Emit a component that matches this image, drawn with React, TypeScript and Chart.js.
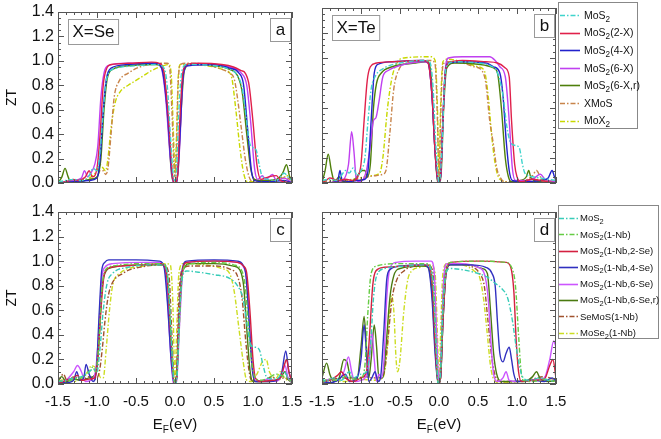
import React, { useEffect, useRef } from 'react';
import { Chart, registerables } from 'chart.js';

Chart.register(...registerables);

const W = 661;
const H = 439;
const FONT = "'Liberation Sans', Arial, Helvetica, sans-serif";

const X_TICKS = [-1.5, -1.0, -0.5, 0, 0.5, 1.0, 1.5];
const Y_TICKS = [0, 0.2, 0.4, 0.6, 0.8, 1.0, 1.2, 1.4];

type Pt = [number, number];

// ---------- Panel a : X = Se ----------
const aMoS2: Pt[] = [[-1.5,0.01],[-1.4,0.02],[-1.3,0.03],[-1.2,0.02],[-1.1,0.06],[-1.05,0.12],[-1.0,0.1],[-0.97,0.2],[-0.93,0.5],[-0.89,0.8],[-0.85,0.9],[-0.75,0.94],[-0.5,0.96],[-0.25,0.97],[-0.15,0.95],[-0.1,0.8],[-0.06,0.4],[-0.02,0.05],[0,0.02],[0.02,0.1],[0.05,0.6],[0.09,0.92],[0.15,0.97],[0.5,0.96],[0.7,0.93],[0.8,0.88],[0.86,0.78],[0.91,0.55],[0.96,0.32],[1.0,0.29],[1.04,0.27],[1.08,0.15],[1.12,0.05],[1.2,0.03],[1.3,0.02],[1.4,0.08],[1.45,0.05],[1.5,0.02]];
const aMoS2_2X: Pt[] = [[-1.5,0],[-1.4,0.01],[-1.3,0.03],[-1.25,0.02],[-1.15,0.05],[-1.1,0.1],[-1.06,0.05],[-1.0,0.12],[-0.96,0.4],[-0.92,0.8],[-0.88,0.93],[-0.82,0.97],[-0.6,0.98],[-0.3,0.99],[-0.2,0.98],[-0.14,0.9],[-0.08,0.5],[-0.03,0.05],[0,0],[0.03,0.05],[0.06,0.5],[0.1,0.9],[0.15,0.97],[0.3,0.98],[0.6,0.97],[0.75,0.95],[0.85,0.92],[0.9,0.9],[0.95,0.8],[1.0,0.5],[1.05,0.15],[1.1,0.03],[1.2,0.05],[1.3,0.06],[1.35,0.02],[1.4,0.01],[1.5,0]];
const aMoS2_4X: Pt[] = [[-1.5,0],[-1.3,0.01],[-1.1,0.02],[-1.0,0.04],[-0.96,0.2],[-0.92,0.6],[-0.88,0.85],[-0.82,0.94],[-0.6,0.97],[-0.25,0.98],[-0.17,0.94],[-0.1,0.6],[-0.05,0.15],[-0.01,0],[0.02,0],[0.06,0.35],[0.1,0.85],[0.15,0.96],[0.5,0.97],[0.7,0.94],[0.82,0.9],[0.88,0.8],[0.93,0.45],[0.98,0.1],[1.02,0.02],[1.2,0.01],[1.4,0.02],[1.5,0]];
const aMoS2_6X: Pt[] = [[-1.5,0],[-1.3,0.02],[-1.2,0.04],[-1.16,0.1],[-1.12,0.05],[-1.08,0.08],[-1.03,0.15],[-0.99,0.3],[-0.95,0.7],[-0.91,0.9],[-0.86,0.96],[-0.6,0.98],[-0.25,0.98],[-0.18,0.95],[-0.12,0.7],[-0.06,0.2],[-0.02,0],[0.02,0],[0.06,0.3],[0.1,0.85],[0.15,0.96],[0.5,0.97],[0.7,0.95],[0.85,0.9],[0.92,0.8],[0.97,0.5],[1.02,0.12],[1.06,0.03],[1.12,0.06],[1.16,0.03],[1.25,0.07],[1.3,0.02],[1.4,0.04],[1.5,0]];
const aMoS2_6Xr: Pt[] = [[-1.5,0],[-1.45,0.05],[-1.41,0.12],[-1.37,0.05],[-1.33,0],[-1.2,0.01],[-1.1,0.03],[-1.0,0.05],[-0.95,0.2],[-0.91,0.6],[-0.87,0.85],[-0.8,0.93],[-0.6,0.96],[-0.25,0.97],[-0.15,0.93],[-0.09,0.5],[-0.04,0.05],[0,0],[0.04,0.1],[0.08,0.6],[0.12,0.92],[0.2,0.97],[0.5,0.96],[0.7,0.93],[0.8,0.88],[0.86,0.75],[0.92,0.4],[0.97,0.12],[1.02,0.03],[1.1,0.02],[1.3,0.03],[1.38,0.08],[1.43,0.15],[1.47,0.05],[1.5,0.02]];
const aXMoS: Pt[] = [[-1.5,0],[-1.3,0.02],[-1.1,0.03],[-1.0,0.05],[-0.96,0.1],[-0.92,0.1],[-0.89,0.07],[-0.86,0.12],[-0.82,0.4],[-0.78,0.7],[-0.72,0.83],[-0.6,0.9],[-0.45,0.95],[-0.2,0.98],[-0.1,0.98],[-0.07,0.95],[-0.04,0.6],[-0.01,0.1],[0,0.05],[0.02,0.3],[0.04,0.8],[0.07,0.97],[0.15,0.98],[0.4,0.97],[0.6,0.93],[0.7,0.9],[0.76,0.85],[0.8,0.7],[0.85,0.45],[0.9,0.2],[0.95,0.05],[1.0,0.01],[1.2,0.02],[1.3,0.03],[1.4,0.05],[1.5,0.02]];
const aMoX2: Pt[] = [[-1.5,0],[-1.3,0.02],[-1.1,0.04],[-1.0,0.1],[-0.96,0.15],[-0.92,0.12],[-0.89,0.1],[-0.86,0.2],[-0.82,0.45],[-0.77,0.65],[-0.7,0.75],[-0.6,0.8],[-0.5,0.84],[-0.4,0.88],[-0.3,0.92],[-0.15,0.96],[-0.08,0.97],[-0.05,0.9],[-0.02,0.4],[0,0.08],[0.02,0.4],[0.04,0.85],[0.07,0.97],[0.2,0.97],[0.5,0.95],[0.65,0.92],[0.72,0.88],[0.78,0.6],[0.83,0.3],[0.88,0.08],[0.93,0.01],[1.2,0.01],[1.35,0.03],[1.45,0.06],[1.5,0.03]];

// ---------- Panel b : X = Te ----------
const bMoS2: Pt[] = [[-1.5,0.02],[-1.4,0.03],[-1.3,0.02],[-1.25,0.06],[-1.2,0.1],[-1.15,0.08],[-1.1,0.12],[-1.05,0.06],[-1.0,0.1],[-0.95,0.2],[-0.91,0.5],[-0.87,0.75],[-0.82,0.85],[-0.7,0.92],[-0.5,0.96],[-0.2,0.98],[-0.12,0.97],[-0.08,0.8],[-0.04,0.3],[0,0],[0.04,0.3],[0.07,0.8],[0.1,0.94],[0.2,0.97],[0.5,0.96],[0.65,0.94],[0.75,0.88],[0.82,0.7],[0.87,0.45],[0.92,0.32],[0.98,0.3],[1.03,0.28],[1.07,0.15],[1.1,0.08],[1.2,0.05],[1.3,0.04],[1.4,0.03],[1.5,0.02]];
const bMoS2_2X: Pt[] = [[-1.5,0],[-1.45,0.02],[-1.4,0.04],[-1.3,0.02],[-1.2,0.03],[-1.1,0.02],[-1.04,0.05],[-1.0,0.15],[-0.96,0.5],[-0.92,0.82],[-0.88,0.93],[-0.8,0.96],[-0.6,0.97],[-0.2,0.98],[-0.14,0.96],[-0.09,0.7],[-0.05,0.25],[-0.01,0],[0.02,0.05],[0.05,0.5],[0.08,0.88],[0.12,0.96],[0.3,0.98],[0.6,0.97],[0.75,0.96],[0.85,0.92],[0.9,0.85],[0.93,0.5],[0.97,0.15],[1.0,0.05],[1.05,0.01],[1.2,0.03],[1.3,0.02],[1.4,0.01],[1.5,0]];
const bMoS2_4X: Pt[] = [[-1.5,0],[-1.3,0.01],[-1.27,0.1],[-1.24,0.02],[-1.15,0.01],[-1.05,0.02],[-0.95,0.03],[-0.91,0.1],[-0.87,0.5],[-0.83,0.88],[-0.78,0.95],[-0.6,0.97],[-0.2,0.98],[-0.14,0.96],[-0.09,0.7],[-0.05,0.25],[-0.01,0],[0.02,0.05],[0.05,0.5],[0.08,0.88],[0.12,0.96],[0.3,0.97],[0.6,0.96],[0.7,0.93],[0.78,0.88],[0.82,0.7],[0.86,0.35],[0.9,0.1],[0.94,0.02],[1.1,0.01],[1.3,0.02],[1.4,0.04],[1.45,0.1],[1.48,0.05],[1.5,0.02]];
const bMoS2_6X: Pt[] = [[-1.5,0],[-1.3,0.01],[-1.22,0.03],[-1.16,0.15],[-1.12,0.41],[-1.09,0.25],[-1.06,0.03],[-1.02,0.01],[-0.97,0.03],[-0.93,0.1],[-0.88,0.3],[-0.84,0.5],[-0.81,0.52],[-0.77,0.65],[-0.72,0.85],[-0.65,0.9],[-0.5,0.94],[-0.2,0.97],[-0.14,0.96],[-0.09,0.7],[-0.05,0.25],[-0.01,0],[0.02,0.05],[0.05,0.5],[0.08,0.9],[0.12,1.0],[0.3,1.01],[0.65,1.01],[0.72,0.98],[0.78,0.93],[0.85,0.85],[0.9,0.5],[0.94,0.12],[0.98,0.02],[1.1,0.02],[1.2,0.03],[1.3,0.07],[1.36,0.03],[1.5,0.01]];
const bMoS2_6Xr: Pt[] = [[-1.5,0],[-1.46,0.1],[-1.42,0.23],[-1.38,0.1],[-1.34,0.01],[-1.28,0.05],[-1.24,0.01],[-1.1,0.02],[-0.98,0.1],[-0.95,0.1],[-0.92,0.05],[-0.88,0.15],[-0.84,0.6],[-0.8,0.8],[-0.74,0.88],[-0.6,0.93],[-0.3,0.96],[-0.15,0.97],[-0.1,0.85],[-0.06,0.35],[-0.02,0.02],[0,0],[0.03,0.1],[0.06,0.6],[0.1,0.92],[0.2,0.96],[0.5,0.95],[0.7,0.92],[0.75,0.88],[0.8,0.6],[0.85,0.2],[0.89,0.05],[0.93,0.01],[1.05,0.02],[1.12,0.05],[1.15,0.1],[1.18,0.04],[1.3,0.01],[1.5,0]];
const bXMoS: Pt[] = [[-1.5,0.02],[-1.4,0.01],[-1.2,0.02],[-1.0,0.03],[-0.9,0.05],[-0.8,0.06],[-0.72,0.07],[-0.68,0.1],[-0.63,0.4],[-0.58,0.75],[-0.52,0.9],[-0.4,0.96],[-0.1,0.98],[-0.05,0.95],[-0.02,0.5],[0,0],[0.02,0.5],[0.05,0.94],[0.1,0.97],[0.3,0.96],[0.45,0.93],[0.55,0.9],[0.6,0.8],[0.65,0.5],[0.7,0.3],[0.74,0.12],[0.78,0.05],[0.84,0.01],[1.1,0.02],[1.2,0.06],[1.25,0.1],[1.3,0.05],[1.4,0.02],[1.5,0.01]];
const bMoX2: Pt[] = [[-1.5,0.01],[-1.3,0.02],[-1.1,0.03],[-0.95,0.05],[-0.85,0.06],[-0.76,0.08],[-0.72,0.2],[-0.66,0.6],[-0.6,0.85],[-0.53,0.97],[-0.45,1.0],[-0.1,1.01],[-0.05,0.98],[-0.02,0.6],[0,0.05],[0.02,0.6],[0.05,0.97],[0.1,0.99],[0.3,0.97],[0.5,0.93],[0.58,0.9],[0.63,0.7],[0.68,0.35],[0.73,0.12],[0.78,0.03],[0.9,0.01],[1.2,0.03],[1.4,0.02],[1.5,0.01]];

// ---------- Panel c ----------
const cMoS2: Pt[] = [[-1.5,0.02],[-1.4,0.03],[-1.3,0.05],[-1.2,0.06],[-1.1,0.1],[-1.05,0.12],[-1.0,0.1],[-0.96,0.3],[-0.92,0.6],[-0.87,0.82],[-0.8,0.9],[-0.6,0.95],[-0.3,0.97],[-0.15,0.97],[-0.09,0.85],[-0.05,0.4],[-0.02,0.05],[0,0],[0.03,0.1],[0.06,0.6],[0.1,0.88],[0.15,0.92],[0.3,0.91],[0.5,0.89],[0.7,0.86],[0.8,0.8],[0.87,0.7],[0.92,0.5],[0.97,0.32],[1.02,0.3],[1.08,0.28],[1.13,0.15],[1.18,0.05],[1.3,0.04],[1.4,0.1],[1.45,0.05],[1.5,0.02]];
const cMoS2_1Nb: Pt[] = [[-1.5,0.03],[-1.4,0.02],[-1.3,0.04],[-1.2,0.05],[-1.1,0.1],[-1.05,0.14],[-1.02,0.1],[-0.98,0.3],[-0.94,0.75],[-0.9,0.92],[-0.8,0.96],[-0.4,0.98],[-0.15,0.98],[-0.09,0.85],[-0.05,0.4],[-0.01,0.02],[0.01,0.02],[0.05,0.4],[0.09,0.88],[0.15,0.97],[0.5,0.99],[0.75,0.97],[0.85,0.93],[0.9,0.8],[0.94,0.5],[0.98,0.2],[1.02,0.06],[1.1,0.03],[1.2,0.05],[1.3,0.08],[1.4,0.06],[1.5,0.02]];
const cNb2Se: Pt[] = [[-1.5,0],[-1.4,0.03],[-1.3,0.05],[-1.25,0.07],[-1.2,0.03],[-1.1,0.04],[-1.03,0.05],[-0.99,0.2],[-0.95,0.6],[-0.91,0.88],[-0.86,0.94],[-0.7,0.96],[-0.4,0.97],[-0.17,0.98],[-0.1,0.85],[-0.05,0.35],[-0.01,0],[0.02,0.05],[0.05,0.5],[0.09,0.9],[0.15,0.99],[0.5,1.0],[0.8,0.99],[0.88,0.96],[0.92,0.9],[0.96,0.6],[1.0,0.2],[1.03,0.05],[1.1,0.02],[1.25,0.03],[1.35,0.05],[1.4,0.15],[1.43,0.2],[1.46,0.1],[1.5,0.02]];
const cNb4Se: Pt[] = [[-1.5,0.02],[-1.4,0.01],[-1.3,0.03],[-1.26,0.1],[-1.22,0.03],[-1.17,0.05],[-1.14,0.16],[-1.1,0.08],[-1.05,0.02],[-1.01,0.1],[-0.97,0.6],[-0.94,0.92],[-0.9,0.99],[-0.85,1.01],[-0.5,1.01],[-0.2,1.0],[-0.14,0.95],[-0.09,0.6],[-0.05,0.2],[-0.01,0],[0.02,0.05],[0.05,0.5],[0.09,0.92],[0.15,1.0],[0.5,1.01],[0.8,1.0],[0.87,0.97],[0.91,0.88],[0.95,0.5],[0.99,0.12],[1.03,0.02],[1.2,0.02],[1.3,0.03],[1.37,0.1],[1.42,0.27],[1.46,0.1],[1.5,0.02]];
const cNb6Se: Pt[] = [[-1.5,0.01],[-1.4,0.03],[-1.3,0.1],[-1.25,0.15],[-1.2,0.1],[-1.15,0.02],[-1.08,0.03],[-1.02,0.1],[-0.98,0.4],[-0.94,0.85],[-0.9,0.95],[-0.8,0.98],[-0.4,0.99],[-0.18,0.99],[-0.12,0.9],[-0.07,0.4],[-0.02,0],[0.02,0.02],[0.06,0.5],[0.1,0.92],[0.15,0.99],[0.5,1.0],[0.8,0.99],[0.88,0.95],[0.92,0.85],[0.96,0.45],[1.0,0.1],[1.04,0.02],[1.2,0.04],[1.3,0.02],[1.37,0.08],[1.41,0.15],[1.45,0.05],[1.5,0.01]];
const cNb6Ser: Pt[] = [[-1.5,0.03],[-1.45,0.06],[-1.4,0.02],[-1.3,0.04],[-1.2,0.03],[-1.1,0.05],[-1.02,0.08],[-0.98,0.3],[-0.94,0.75],[-0.9,0.9],[-0.8,0.95],[-0.4,0.97],[-0.15,0.97],[-0.09,0.8],[-0.05,0.3],[-0.01,0],[0.02,0.05],[0.06,0.6],[0.1,0.92],[0.2,0.98],[0.5,0.98],[0.75,0.96],[0.83,0.93],[0.88,0.8],[0.92,0.45],[0.96,0.12],[1.0,0.02],[1.2,0.02],[1.35,0.05],[1.41,0.1],[1.45,0.04],[1.5,0.01]];
const cSeMoS: Pt[] = [[-1.5,0.02],[-1.43,0.08],[-1.38,0.02],[-1.3,0.06],[-1.2,0.03],[-1.1,0.06],[-1.03,0.04],[-0.97,0.1],[-0.93,0.3],[-0.9,0.5],[-0.86,0.7],[-0.82,0.8],[-0.67,0.9],[-0.37,0.96],[-0.15,0.97],[-0.08,0.9],[-0.04,0.4],[-0.01,0.02],[0.02,0.1],[0.05,0.7],[0.09,0.93],[0.2,0.96],[0.5,0.96],[0.72,0.93],[0.8,0.88],[0.86,0.7],[0.9,0.4],[0.94,0.15],[0.98,0.03],[1.1,0.02],[1.25,0.06],[1.3,0.03],[1.4,0.05],[1.5,0.02]];
const cMoSe2: Pt[] = [[-1.5,0.02],[-1.4,0.04],[-1.3,0.02],[-1.2,0.05],[-1.12,0.1],[-1.07,0.15],[-1.0,0.12],[-0.95,0.05],[-0.92,0.05],[-0.88,0.3],[-0.84,0.6],[-0.8,0.8],[-0.71,0.9],[-0.4,0.96],[-0.12,0.98],[-0.06,0.97],[-0.03,0.7],[0,0.05],[0.02,0.4],[0.05,0.9],[0.1,0.98],[0.4,0.97],[0.6,0.94],[0.7,0.9],[0.76,0.75],[0.82,0.45],[0.87,0.2],[0.92,0.03],[0.98,0.02],[1.05,0.08],[1.12,0.18],[1.17,0.2],[1.21,0.1],[1.3,0.05],[1.35,0.1],[1.4,0.05],[1.5,0.02]];

// ---------- Panel d ----------
const dMoS2: Pt[] = [[-1.5,0.05],[-1.45,0.02],[-1.35,0.05],[-1.25,0.03],[-1.15,0.1],[-1.1,0.05],[-1.0,0.08],[-0.93,0.1],[-0.88,0.3],[-0.84,0.7],[-0.8,0.88],[-0.7,0.94],[-0.4,0.96],[-0.15,0.97],[-0.08,0.85],[-0.04,0.35],[-0.01,0],[0.02,0.1],[0.05,0.6],[0.09,0.9],[0.14,0.94],[0.3,0.93],[0.5,0.9],[0.62,0.87],[0.72,0.82],[0.8,0.78],[0.88,0.7],[0.94,0.52],[0.99,0.3],[1.03,0.15],[1.07,0.06],[1.15,0.03],[1.3,0.05],[1.4,0.03],[1.5,0.02]];
const dMoS2_1Nb: Pt[] = [[-1.5,0.02],[-1.4,0.04],[-1.3,0.03],[-1.2,0.06],[-1.1,0.04],[-1.0,0.05],[-0.95,0.15],[-0.91,0.6],[-0.87,0.9],[-0.8,0.96],[-0.5,0.98],[-0.15,0.98],[-0.08,0.85],[-0.04,0.35],[-0.01,0],[0.02,0.1],[0.05,0.6],[0.09,0.92],[0.15,0.99],[0.5,1.0],[0.85,0.99],[0.93,0.95],[0.98,0.8],[1.02,0.4],[1.05,0.12],[1.08,0.03],[1.2,0.02],[1.35,0.04],[1.5,0.02]];
const dNb2Se: Pt[] = [[-1.5,0.02],[-1.4,0.03],[-1.3,0.07],[-1.25,0.1],[-1.2,0.05],[-1.1,0.02],[-1.0,0.05],[-0.93,0.1],[-0.89,0.4],[-0.85,0.8],[-0.81,0.92],[-0.7,0.95],[-0.4,0.96],[-0.15,0.97],[-0.09,0.85],[-0.05,0.35],[-0.01,0],[0.02,0.05],[0.05,0.5],[0.09,0.9],[0.15,0.99],[0.5,1.0],[0.86,0.99],[0.92,0.95],[0.96,0.75],[0.99,0.35],[1.02,0.1],[1.06,0.02],[1.2,0.03],[1.35,0.04],[1.42,0.15],[1.46,0.2],[1.5,0.05]];
const dNb4Se: Pt[] = [[-1.5,0.02],[-1.4,0.01],[-1.3,0.03],[-1.2,0.08],[-1.15,0.02],[-1.05,0.05],[-1.0,0.2],[-0.96,0.48],[-0.93,0.25],[-0.9,0.02],[-0.86,0.05],[-0.82,0.1],[-0.78,0.02],[-0.75,0.05],[-0.71,0.4],[-0.67,0.85],[-0.63,0.93],[-0.5,0.96],[-0.2,0.97],[-0.14,0.95],[-0.09,0.7],[-0.05,0.25],[-0.01,0],[0.02,0.05],[0.05,0.5],[0.09,0.9],[0.14,0.97],[0.4,0.97],[0.6,0.95],[0.68,0.9],[0.72,0.8],[0.75,0.5],[0.78,0.25],[0.82,0.18],[0.86,0.25],[0.9,0.3],[0.93,0.2],[0.96,0.08],[1.0,0.02],[1.2,0.03],[1.35,0.02],[1.45,0.05],[1.5,0.02]];
const dNb6Se: Pt[] = [[-1.5,0.02],[-1.4,0.04],[-1.3,0.03],[-1.22,0.1],[-1.16,0.22],[-1.12,0.1],[-1.08,0.02],[-1.0,0.03],[-0.95,0.05],[-0.9,0.15],[-0.86,0.42],[-0.83,0.2],[-0.8,0.02],[-0.77,0.08],[-0.74,0.05],[-0.71,0.15],[-0.67,0.7],[-0.63,0.94],[-0.55,0.99],[-0.3,1.0],[-0.1,1.0],[-0.06,0.9],[-0.03,0.4],[0,0],[0.03,0.3],[0.06,0.85],[0.1,0.98],[0.3,0.98],[0.5,0.95],[0.58,0.9],[0.63,0.7],[0.67,0.3],[0.7,0.08],[0.75,0.02],[0.82,0.05],[0.86,0.1],[0.9,0.03],[1.0,0.02],[1.2,0.03],[1.35,0.05],[1.42,0.2],[1.47,0.35],[1.5,0.3]];
const dNb6Ser: Pt[] = [[-1.5,0.05],[-1.44,0.17],[-1.4,0.08],[-1.35,0.02],[-1.28,0.05],[-1.22,0.2],[-1.18,0.18],[-1.13,0.05],[-1.05,0.05],[-1.0,0.3],[-0.96,0.55],[-0.93,0.3],[-0.9,0.05],[-0.87,0.2],[-0.83,0.48],[-0.8,0.3],[-0.77,0.05],[-0.72,0.05],[-0.68,0.3],[-0.63,0.7],[-0.58,0.88],[-0.5,0.94],[-0.2,0.96],[-0.14,0.95],[-0.09,0.75],[-0.05,0.3],[-0.01,0],[0.02,0.05],[0.05,0.5],[0.09,0.9],[0.15,0.97],[0.4,0.97],[0.55,0.94],[0.62,0.9],[0.66,0.6],[0.7,0.25],[0.74,0.08],[0.8,0.02],[1.1,0.02],[1.2,0.06],[1.25,0.1],[1.3,0.04],[1.4,0.02],[1.5,0.03]];
const dSeMoS: Pt[] = [[-1.5,0.02],[-1.4,0.03],[-1.25,0.05],[-1.1,0.04],[-0.95,0.06],[-0.85,0.05],[-0.75,0.05],[-0.7,0.1],[-0.65,0.4],[-0.6,0.7],[-0.54,0.85],[-0.45,0.92],[-0.37,0.95],[-0.15,0.97],[-0.08,0.92],[-0.04,0.45],[-0.01,0.02],[0.02,0.1],[0.05,0.7],[0.09,0.95],[0.2,0.98],[0.4,0.96],[0.52,0.9],[0.58,0.8],[0.63,0.5],[0.68,0.2],[0.72,0.07],[0.78,0.02],[1.0,0.02],[1.2,0.04],[1.35,0.06],[1.5,0.03]];
const dMoSe2: Pt[] = [[-1.5,0.01],[-1.4,0.03],[-1.2,0.02],[-1.0,0.04],[-0.85,0.03],[-0.72,0.05],[-0.66,0.3],[-0.61,0.72],[-0.58,0.6],[-0.55,0.2],[-0.53,0.1],[-0.5,0.2],[-0.45,0.6],[-0.4,0.85],[-0.35,0.92],[-0.24,0.95],[-0.1,0.97],[-0.05,0.9],[-0.02,0.4],[0,0.02],[0.02,0.4],[0.05,0.9],[0.1,0.98],[0.3,0.97],[0.45,0.92],[0.52,0.87],[0.57,0.7],[0.62,0.4],[0.66,0.15],[0.7,0.04],[0.78,0.01],[1.0,0.02],[1.25,0.03],[1.5,0.02]];

// ---------- legends / styles ----------
const AB_LABELS = ['MoS₂', 'MoS₂(2-X)', 'MoS₂(4-X)', 'MoS₂(6-X)', 'MoS₂(6-X,r)', 'XMoS', 'MoX₂'];
const AB_COLORS = ['#3FD4CC', '#E0204A', '#2222CC', '#C040F0', '#4E7F0A', '#C8844A', '#C8D800'];
const AB_DASHED = [true, false, false, false, false, true, true];

const CD_LABELS = ['MoS₂', 'MoS₂(1-Nb)', 'MoS₂(1-Nb,2-Se)', 'MoS₂(1-Nb,4-Se)', 'MoS₂(1-Nb,6-Se)', 'MoS₂(1-Nb,6-Se,r)', 'SeMoS(1-Nb)', 'MoSe₂(1-Nb)'];
const CD_COLORS = ['#38CCB8', '#66CC44', '#D42040', '#3030C0', '#CC55FF', '#4A7A10', '#A0522D', '#CCDD22'];
const CD_DASHED = [true, true, false, false, false, false, true, true];

const A_SERIES = [aMoS2, aMoS2_2X, aMoS2_4X, aMoS2_6X, aMoS2_6Xr, aXMoS, aMoX2];
const B_SERIES = [bMoS2, bMoS2_2X, bMoS2_4X, bMoS2_6X, bMoS2_6Xr, bXMoS, bMoX2];
const C_SERIES = [cMoS2, cMoS2_1Nb, cNb2Se, cNb4Se, cNb6Se, cNb6Ser, cSeMoS, cMoSe2];
const D_SERIES = [dMoS2, dMoS2_1Nb, dNb2Se, dNb4Se, dNb6Se, dNb6Ser, dSeMoS, dMoSe2];

const DASH_DOT = [5, 2, 1.5, 2];

type Legend = { left: number; top: number; right: number; bottom: number; first: number; step: number; size: number; x0: number; x1: number; textX: number };
type Panel = {
  tag: string; note: string | null;
  area: { left: number; top: number; right: number; bottom: number };
  yLabels: boolean; xLabels: boolean;
  series: Pt[][]; labels: string[]; colors: string[]; dashed: boolean[];
  legend: Legend | null;
};

const PANELS: Panel[] = [
  { tag: 'a', note: 'X=Se', area: { left: 58, top: 8, right: 292, bottom: 183 }, yLabels: true, xLabels: false,
    series: A_SERIES, labels: AB_LABELS, colors: AB_COLORS, dashed: AB_DASHED, legend: null },
  { tag: 'b', note: 'X=Te', area: { left: 322, top: 8, right: 556, bottom: 183 }, yLabels: false, xLabels: false,
    series: B_SERIES, labels: AB_LABELS, colors: AB_COLORS, dashed: AB_DASHED,
    legend: { left: 558, top: 2, right: 637, bottom: 128, first: 15, step: 17.6, size: 10.5, x0: 560, x1: 580, textX: 584 } },
  { tag: 'c', note: null, area: { left: 58, top: 212, right: 292, bottom: 384 }, yLabels: true, xLabels: true,
    series: C_SERIES, labels: CD_LABELS, colors: CD_COLORS, dashed: CD_DASHED, legend: null },
  { tag: 'd', note: null, area: { left: 322, top: 212, right: 556, bottom: 384 }, yLabels: false, xLabels: true,
    series: D_SERIES, labels: CD_LABELS, colors: CD_COLORS, dashed: CD_DASHED,
    legend: { left: 558, top: 205, right: 658, bottom: 338, first: 218, step: 16.4, size: 9.5, x0: 559, x1: 578, textX: 580 } },
];

function drawRich(ctx: CanvasRenderingContext2D, text: string, x: number, y: number, size: number, subScale: number) {
  let cx = x;
  let run = '';
  const flush = () => {
    if (!run) return;
    ctx.font = `${size}px ${FONT}`;
    ctx.fillText(run, cx, y);
    cx += ctx.measureText(run).width;
    run = '';
  };
  for (const ch of text) {
    const code = ch.charCodeAt(0);
    if (code >= 0x2080 && code <= 0x2089) {
      flush();
      const d = String(code - 0x2080);
      ctx.font = `${size * subScale}px ${FONT}`;
      ctx.fillText(d, cx, y + size * 0.28);
      cx += ctx.measureText(d).width;
    } else {
      run += ch;
    }
  }
  flush();
  return cx - x;
}

function makeDecor(p: Panel) {
  return {
    id: 'decor_' + p.tag,
    afterDraw(chart: any) {
      const ctx: CanvasRenderingContext2D = chart.ctx;
      const { left, top, right, bottom } = chart.chartArea;
      const xs = chart.scales.x;
      const ys = chart.scales.y;
      ctx.save();
      ctx.setLineDash([]);
      // frame
      ctx.strokeStyle = '#555';
      ctx.lineWidth = 1;
      ctx.strokeRect(left + 0.5, top + 0.5, right - left - 1, bottom - top - 1);
      // inward ticks on all four sides
      ctx.beginPath();
      for (let i = -15; i <= 15; i++) {
        const px = Math.round(xs.getPixelForValue(i / 10)) + 0.5;
        const len = i % 5 === 0 ? 6 : 3;
        ctx.moveTo(px, bottom); ctx.lineTo(px, bottom - len);
        ctx.moveTo(px, top); ctx.lineTo(px, top + len);
      }
      for (let i = 0; i <= 28; i++) {
        const py = Math.round(ys.getPixelForValue(i * 0.05)) + 0.5;
        const len = i % 4 === 0 ? 6 : 3;
        ctx.moveTo(left, py); ctx.lineTo(left + len, py);
        ctx.moveTo(right, py); ctx.lineTo(right - len, py);
      }
      ctx.stroke();

      // label boxes
      ctx.textBaseline = 'middle';
      ctx.textAlign = 'center';
      ctx.font = `17px ${FONT}`;
      if (p.note) {
        const w = ctx.measureText(p.note).width + 8;
        const bx = left + 10, by = top + 7, bh = 25;
        ctx.fillStyle = '#fff';
        ctx.fillRect(bx, by, w, bh);
        ctx.strokeStyle = '#999';
        ctx.strokeRect(bx + 0.5, by + 0.5, w, bh);
        ctx.fillStyle = '#111';
        ctx.fillText(p.note, bx + w / 2 + 0.5, by + bh / 2 + 1);
      }
      {
        const w = 20, bh = 23;
        const bx = right - w - 2, by = top + 6;
        ctx.fillStyle = '#fff';
        ctx.fillRect(bx, by, w, bh);
        ctx.strokeStyle = '#999';
        ctx.strokeRect(bx + 0.5, by + 0.5, w, bh);
        ctx.fillStyle = '#111';
        ctx.fillText(p.tag, bx + w / 2 + 0.5, by + bh / 2 + 1);
      }

      // x axis title  E_F(eV)
      if (p.xLabels) {
        const cx = (left + right) / 2;
        const base = 429;
        ctx.textAlign = 'left';
        ctx.textBaseline = 'alphabetic';
        ctx.font = `15px ${FONT}`;
        const wE = ctx.measureText('E').width;
        const wP = ctx.measureText('(eV)').width;
        ctx.font = `10px ${FONT}`;
        const wF = ctx.measureText('F').width;
        let x = cx - (wE + wF + wP) / 2;
        ctx.fillStyle = '#111';
        ctx.font = `15px ${FONT}`;
        ctx.fillText('E', x, base); x += wE;
        ctx.font = `10px ${FONT}`;
        ctx.fillText('F', x, base + 4); x += wF;
        ctx.font = `15px ${FONT}`;
        ctx.fillText('(eV)', x, base);
      }

      // legend
      const L = p.legend;
      if (L) {
        ctx.fillStyle = '#fff';
        ctx.fillRect(L.left, L.top, L.right - L.left, L.bottom - L.top);
        ctx.strokeStyle = '#888';
        ctx.lineWidth = 1;
        ctx.strokeRect(L.left + 0.5, L.top + 0.5, L.right - L.left, L.bottom - L.top);
        ctx.textAlign = 'left';
        ctx.textBaseline = 'alphabetic';
        chart.data.datasets.forEach((ds: any, i: number) => {
          const y = L.first + i * L.step;
          ctx.strokeStyle = ds.borderColor;
          ctx.lineWidth = 1.6;
          ctx.setLineDash(ds.borderDash || []);
          ctx.beginPath();
          ctx.moveTo(L.x0, Math.round(y) + 0.5);
          ctx.lineTo(L.x1, Math.round(y) + 0.5);
          ctx.stroke();
          ctx.setLineDash([]);
          ctx.fillStyle = '#111';
          drawRich(ctx, ds.label, L.textX, y + L.size * 0.36, L.size, 0.78);
        });
      }
      ctx.restore();
    },
  };
}

function PanelChart({ p }: { p: Panel }) {
  const ref = useRef<HTMLCanvasElement | null>(null);
  useEffect(() => {
    if (!ref.current) return;
    const datasets = p.series.map((s, i) => ({
      label: p.labels[i],
      data: s.map(([x, y]) => ({ x, y })),
      borderColor: p.colors[i],
      backgroundColor: p.colors[i],
      borderWidth: 1.4,
      borderDash: p.dashed[i] ? DASH_DOT : [],
      pointRadius: 0,
      fill: false,
      cubicInterpolationMode: 'monotone' as const,
    }));
    const chart = new Chart(ref.current, {
      type: 'line',
      data: { datasets },
      options: {
        responsive: false,
        animation: false,
        devicePixelRatio: 1,
        events: [],
        layout: {
          padding: {
            left: p.yLabels ? 0 : p.area.left,
            top: p.area.top,
            right: W - p.area.right,
            bottom: p.xLabels ? 0 : H - p.area.bottom,
          },
        },
        plugins: { legend: { display: false }, tooltip: { enabled: false } },
        scales: {
          x: {
            type: 'linear', min: -1.5, max: 1.5, display: p.xLabels,
            grid: { display: false, drawTicks: false }, border: { display: false },
            afterBuildTicks: (s: any) => { s.ticks = X_TICKS.map((v) => ({ value: v })); },
            afterFit: (s: any) => { if (p.xLabels) s.height = H - p.area.bottom; },
            ticks: {
              font: { family: FONT, size: 15, lineHeight: 1 }, color: '#111', padding: 10,
              maxRotation: 0, autoSkip: false,
              callback: (v: any) => Number(v).toFixed(1),
            },
          },
          y: {
            type: 'linear', min: 0, max: 1.4, display: p.yLabels,
            grid: { display: false, drawTicks: false }, border: { display: false },
            afterBuildTicks: (s: any) => { s.ticks = Y_TICKS.map((v) => ({ value: v })); },
            afterFit: (s: any) => { if (p.yLabels) s.width = p.area.left; },
            ticks: {
              font: { family: FONT, size: 16, lineHeight: 1 }, color: '#111', padding: 4,
              autoSkip: false,
              callback: (v: any) => Number(v).toFixed(1),
            },
            title: { display: true, text: 'ZT', font: { family: FONT, size: 14 }, color: '#111', padding: { top: 4, bottom: 0 } },
          },
        },
      } as any,
      plugins: [makeDecor(p)],
    });
    return () => chart.destroy();
  }, [p]);
  return (
    <canvas ref={ref} width={W} height={H}
      style={{ position: 'absolute', left: 0, top: 0, width: W, height: H }} />
  );
}

export default function App() {
  return (
    <div style={{ position: 'absolute', left: 0, top: 0, width: W, height: H, background: '#fff' }}>
      {PANELS.map((p) => <PanelChart key={p.tag} p={p} />)}
    </div>
  );
}
